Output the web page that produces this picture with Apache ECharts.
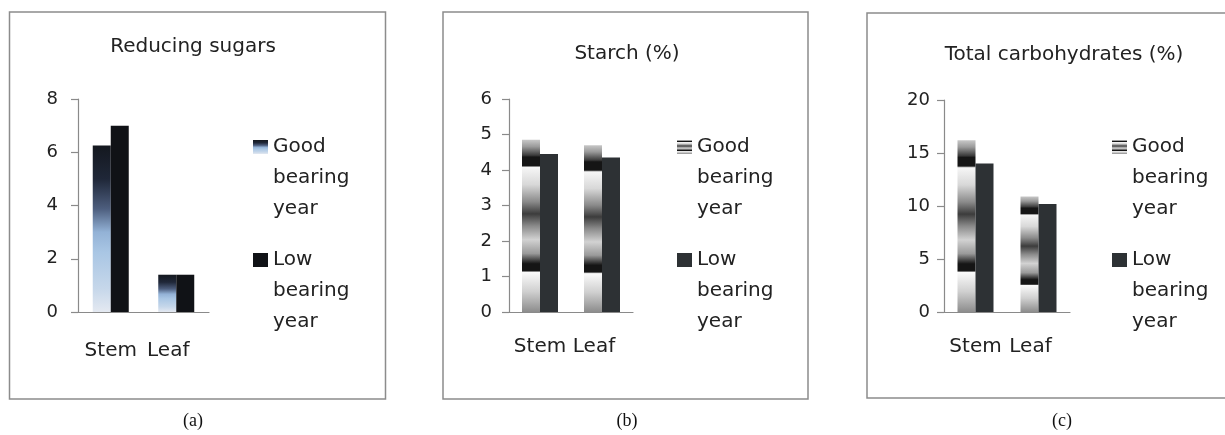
<!DOCTYPE html>
<html>
<head>
<meta charset="utf-8">
<script src="https://cdn.jsdelivr.net/npm/echarts@6/dist/echarts.min.js"></script>
<style>
  html, body { margin: 0; padding: 0; background: #fff; }
  #main { width: 1225px; height: 435px; }
</style>
</head>
<body>
<div id="main"></div>
<script>
const categories = ['Stem', 'Leaf'];
const legendNames = ['Good bearing year', 'Low bearing year'];
const captions = ['(a)', '(b)', '(c)'];
const titles = ['Reducing sugars', 'Starch (%)', 'Total carbohydrates (%)'];

const sugarsGood = [6.25, 1.4];
const sugarsLow = [7.0, 1.4];
const starchGood = [4.85, 4.7];
const starchLow = [4.45, 4.35];
const carbGood = [16.2, 10.9];
const carbLow = [14.0, 10.2];

const yTicksA = [0, 8, 2];
const yTicksB = [0, 6, 1];
const yTicksC = [0, 20, 5];

const font = 'DejaVu Sans';
const axisColor = '#8a8a8a';
const textColor = '#222';

const myChart = echarts.init(document.querySelector('#main'));

const grad = stops => new echarts.graphic.LinearGradient(0, 0, 0, 1,
  stops.map(s => ({ offset: s[0], color: s[1] })));

// blue fade used in panel (a)
const blueStops = [
  [0, '#14181f'], [0.2, '#1f2738'], [0.38, '#4d5e7e'], [0.52, '#93b2d6'],
  [0.64, '#a9c6e4'], [0.86, '#c6d7ea'], [1, '#e4e9f1']
];

// banded grey texture of panels (b) and (c)
const greyStops = [
  [0, '#c8c8c8'], [0.04, '#9a9a9a'], [0.09, '#3a3a3a'], [0.1, '#151515'],
  [0.15, '#151515'], [0.16, '#f6f6f6'], [0.26, '#d8d8d8'], [0.36, '#8a8a8a'],
  [0.43, '#3c3c3c'], [0.5, '#8a8a8a'], [0.58, '#d2d2d2'], [0.66, '#9a9a9a'],
  [0.71, '#2a2a2a'], [0.72, '#151515'], [0.76, '#151515'], [0.77, '#fafafa'],
  [0.88, '#d0d0d0'], [1, '#8c8c8c']
];

// legend icon: a 15x14 square at the top of a 15x76 box, so it sits on the first text line
const ICON_H = 76;
const iconPath = 'path://M0,0L15,0L15,14L0,14Z M0,76L15,76';
const squeeze = stops => grad(stops.map(s => [s[0] * 14 / ICON_H, s[1]]));

const panels = [
  { good: sugarsGood, low: sugarsLow, ticks: yTicksA, goodStops: blueStops, lowColor: '#101216',
    grid: { left: 78, top: 99, width: 131, height: 213 }, labelMargin: 20, xMargin: 29,
    titleX: 193, titleY: 37, legendX: 253, box: [9.5, 12, 376, 387], capX: 193 },
  { good: starchGood, low: starchLow, ticks: yTicksB, goodStops: greyStops, lowColor: '#2d3134',
    grid: { left: 509, top: 99, width: 124, height: 213 }, labelMargin: 17, xMargin: 25,
    titleX: 627, titleY: 44, legendX: 677, box: [443, 12, 365, 387], capX: 627 },
  { good: carbGood, low: carbLow, ticks: yTicksC, goodStops: greyStops, lowColor: '#2d3134',
    grid: { left: 944, top: 100, width: 126, height: 212 }, labelMargin: 14, xMargin: 25,
    titleX: 1064, titleY: 45, legendX: 1112, box: [867, 13, 380, 385], capX: 1062 }
];

const legendFormatter = name => name.split('|')[0].split(' ').join('\n');

function legendFor(name, iconColor, left, lineY) {
  return {
    data: [{ name: name, icon: iconPath, itemStyle: { color: iconColor } }],
    left: left,
    top: lineY - 15.5,
    padding: 0,
    itemWidth: 15,
    itemHeight: ICON_H,
    selectedMode: false,
    formatter: legendFormatter,
    textStyle: { fontFamily: font, fontSize: 20, lineHeight: 31, color: textColor }
  };
}

const option = {
  backgroundColor: '#fff',
  animation: false,
  title: [],
  legend: [],
  grid: [],
  xAxis: [],
  yAxis: [],
  series: [],
  graphic: []
};

panels.forEach((p, i) => {
  const goodName = legendNames[0] + '|' + i;
  const lowName = legendNames[1] + '|' + i;

  option.title.push({
    text: titles[i],
    left: p.titleX,
    top: p.titleY,
    textAlign: 'center',
    padding: 0,
    textStyle: { fontFamily: font, fontSize: 20, fontWeight: 'normal', color: textColor }
  });

  option.legend.push(legendFor(goodName, squeeze(p.goodStops), p.legendX, 147));
  option.legend.push(legendFor(lowName, p.lowColor, p.legendX, 260));

  option.grid.push(p.grid);

  option.xAxis.push({
    type: 'category',
    gridIndex: i,
    data: categories,
    axisLine: { lineStyle: { color: axisColor, width: 1.2 } },
    axisTick: { length: 7, lineStyle: { color: axisColor, width: 1.2 } },
    axisLabel: {
      interval: 0,
      margin: p.xMargin,
      fontFamily: font,
      fontSize: 20,
      color: textColor,
      formatter: (v, idx) => idx === 1 ? '{l|' + v + '}' : v,
      rich: { l: { fontFamily: font, fontSize: 20, color: textColor, padding: [0, 16, 0, 0] } }
    }
  });

  option.yAxis.push({
    type: 'value',
    gridIndex: i,
    min: p.ticks[0],
    max: p.ticks[1],
    interval: p.ticks[2],
    splitLine: { show: false },
    axisLine: { show: true, lineStyle: { color: axisColor, width: 1.2 } },
    axisTick: { show: true, length: 7, lineStyle: { color: axisColor, width: 1.2 } },
    axisLabel: { margin: p.labelMargin, fontFamily: font, fontSize: 18, color: textColor }
  });

  option.series.push({
    name: goodName,
    type: 'bar',
    xAxisIndex: i,
    yAxisIndex: i,
    data: p.good,
    barWidth: 18,
    barGap: '0%',
    itemStyle: { color: grad(p.goodStops) }
  });
  option.series.push({
    name: lowName,
    type: 'bar',
    xAxisIndex: i,
    yAxisIndex: i,
    data: p.low,
    barWidth: 18,
    barGap: '0%',
    itemStyle: { color: p.lowColor }
  });

  option.graphic.push({
    type: 'rect',
    shape: { x: p.box[0], y: p.box[1], width: p.box[2], height: p.box[3] },
    style: { fill: 'none', stroke: '#8c8c8c', lineWidth: 1.5 },
    silent: true
  });
  option.graphic.push({
    type: 'text',
    x: p.capX,
    y: 421,
    style: {
      text: captions[i],
      fontFamily: 'Liberation Serif',
      fontSize: 18,
      fill: '#111',
      align: 'center',
      verticalAlign: 'middle'
    },
    silent: true
  });
});

myChart.setOption(option);
</script>
</body>
</html>
